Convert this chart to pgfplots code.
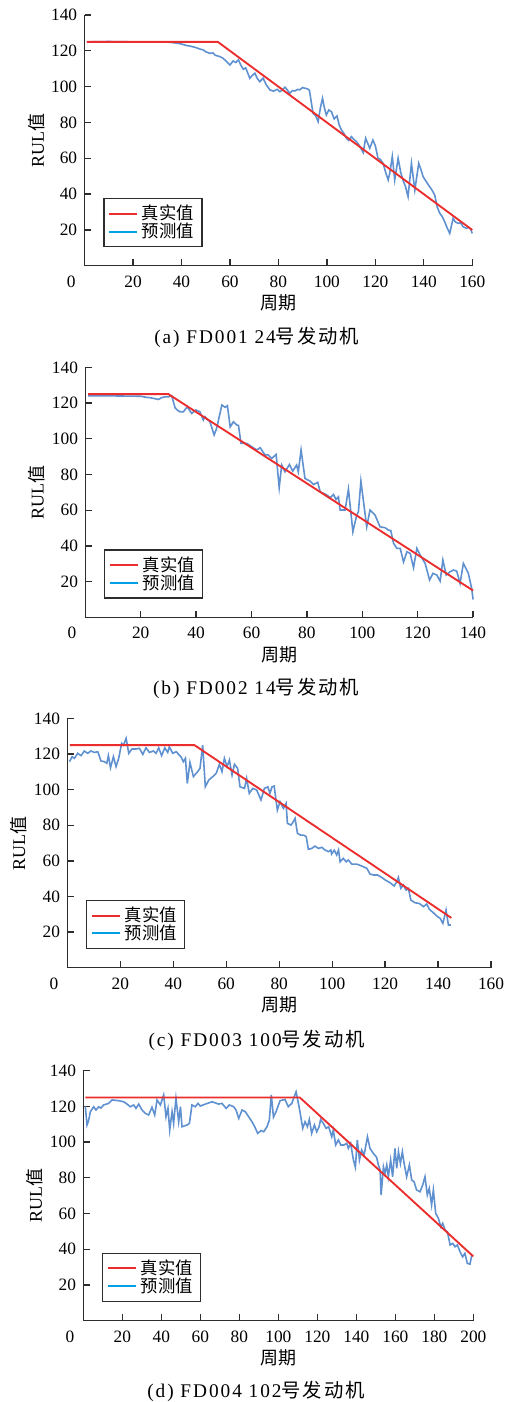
\documentclass[border=0pt]{standalone}
\usepackage{fontspec}
\setmainfont{Liberation Serif}
\newfontfamily\cjk{Noto Sans CJK SC}
\newfontfamily\capfont[LetterSpace=10]{Liberation Serif}
\newfontfamily\capcjk[LetterSpace=10]{Noto Sans CJK SC}
\usepackage{pgfplots}
\pgfplotsset{compat=1.18}
\definecolor{truered}{RGB}{235,45,45}
\definecolor{predblue}{RGB}{95,145,208}
\definecolor{legblue}{RGB}{0,160,230}
\definecolor{axgray}{RGB}{45,45,45}
\pgfplotsset{rulstyle/.style={
  scale only axis, axis lines=left,
  axis line style={-, line width=1pt, color=axgray},
  ymin=0, ymax=140, xmin=0, ytick={20,40,...,140},
  tick align=inside, major tick length=5pt,
  tick style={line width=1pt, color=axgray},
  /pgf/number format/assume math mode=true,
  tick label style={font=\fontsize{13}{15}\selectfont},
  xticklabel style={yshift=-4pt},
  yticklabel style={xshift=-2pt},
  extra x ticks={0},
  extra x tick style={major tick length=0pt, xticklabel style={xshift=-10pt}},
  xlabel={{\cjk 周期}}, ylabel={RUL{\cjk 值}},
  label style={font=\fontsize{13.5}{15}\selectfont},
  xlabel style={at={(axis description cs:0.5,0)}, anchor=center, yshift=-27.75pt},
  legend style={at={(axis description cs:0,0)}, anchor=south west, xshift=14pt, yshift=14pt,
    draw=axgray, line width=1pt, inner xsep=3pt, inner ysep=4.5pt,
    font=\cjk\fontsize{13}{14}\selectfont, legend cell align=left,
    nodes={inner xsep=3pt, inner ysep=0.5pt}},
  legend image code/.code={\draw[##1] (0pt,0pt) -- (21pt,0pt);},
  clip=false,
}}
\newcommand\leg{%
\addlegendimage{color=truered, line width=1.5pt}\addlegendentry{真实值}
\addlegendimage{color=legblue, line width=1.5pt}\addlegendentry{预测值}}
\begin{document}
\begin{tikzpicture}
\useasboundingbox (0,0) rectangle (381pt,-1051.5pt);
% (a)
\begin{axis}[rulstyle, at={(63.4pt,-199.35pt)}, anchor=south west,
  width=290.8pt, height=188.1pt, xmax=160, xtick={20,40,...,160},
  ylabel style={at={(axis description cs:-0.1225,0.5)}, anchor=center}]
\leg
\addplot[predblue, line width=1.2pt, forget plot] coordinates {
(1,125) (10,125.2) (20,125) (30,125) (35,124.8) (38,124.3) (40,123.8) (42,123) (44,122.5) (46,121.8) (47.6,121) (49,120.5) (50,119.5) (51.7,118.6) (53,118.8) (54,117.5) (55.8,116.8) (57,116) (58,114.8) (60,112.1) (61.3,114.3) (62.5,113.5) (63.5,115) (64.5,112) (65.5,109.7) (66.5,110.5) (68.2,104.7) (69,106) (70.3,107.5) (71.3,104.5) (72.3,102.8) (73.7,104.7) (75,101) (76.5,98.2) (78,97.5) (79.5,98.5) (80.6,97.2) (81.5,98) (82.7,99.7) (83.5,98.5) (84.7,96.3) (85.8,97.8) (86.8,97.6) (88,98.5) (88.8,98.2) (90,99.5) (90.9,99.1) (92,98.8) (92.8,98) (94.3,85.1) (95.3,84) (96.4,80.5) (97.3,88) (98.2,93.5) (99,88) (99.8,84.2) (100.8,87) (101.9,86) (103,82) (104.2,83.6) (105,79) (106,75.8) (107,74) (108.1,71.2) (109,70) (110.1,72.1) (111.2,70.5) (112.2,69.3) (113.5,67) (115,63.2) (116,71.2) (117.7,65.6) (119,70.2) (120,67) (121.1,60) (122,59.5) (123.2,57.2) (124.3,52) (125.3,47.9) (126,52) (127,61) (128,47.9) (129.4,60) (130.5,52) (131.4,47.9) (132.5,44) (133.5,38.6) (134.9,57.2) (136.3,42.3) (137.9,57.2) (139,53) (139.7,49.8) (141,47) (142.4,44.2) (143.5,42) (144.5,39.5) (145.5,33) (146.6,29.3) (147.6,27.5) (148.6,24.6) (149.7,21) (150.7,18.1) (152.1,26.5) (153,24.5) (154.1,23.7) (155.2,24) (156.2,21.8) (157.6,20.9) (158.5,21.5) (159.3,20.5) (160,18.1)};
\addplot[truered, line width=1.4pt, forget plot] coordinates {(1,125) (55,125) (160,20)};
\end{axis}
\node[font=\fontsize{14.5}{16}\capfont] at (192.5pt,-252.75pt) {(a) FD001 24{\capcjk 号发动机}};
% (b)
\begin{axis}[rulstyle, at={(64.0pt,-463.0pt)}, anchor=south west,
  width=290.8pt, height=187.5pt, xmax=140, xtick={20,40,...,140},
  ylabel style={at={(axis description cs:-0.1254,0.5)}, anchor=center}]
\leg
\addplot[predblue, line width=1.2pt, forget plot] coordinates {
(1,124) (10,124) (20,123.8) (22,123.2) (23.4,123) (25,122.5) (26.4,122) (27.5,123) (28.8,123.5) (30,123.5) (31.2,124) (32.4,117.4) (33.3,116) (34.2,115.1) (35.4,115.1) (36.8,117.9) (37.6,116) (38.4,114.2) (39.9,116.1) (41.4,115.1) (42.6,110.5) (43.2,112.3) (44,111) (45,109.5) (46.5,102.1) (47.4,105.8) (48.3,112) (49.3,118.9) (50.5,117.6) (51.3,118.5) (52.3,106.7) (53.5,109.5) (54.7,107.7) (55.3,107.5) (56.2,97.4) (58.3,97.4) (60.1,95.5) (61.9,93.7) (63.1,95) (64.9,90.9) (66,91) (67.3,89) (68.9,91.2) (70,72.6) (70.9,85.3) (72.1,81.5) (73.7,85.6) (74.9,81.9) (76.3,85.3) (76.9,81.5) (77.9,93.7) (79.3,77.8) (81.1,76.3) (82.4,74.4) (83.9,75.6) (84.8,70.3) (87.2,68.5) (88.5,67) (89.6,68.8) (90.5,66) (91.4,67.5) (92,60.1) (93.8,60.1) (95,71.8) (96.6,47.9) (98,57.3) (98.6,59.1) (99.5,76.3) (101.6,50.7) (102.8,60.1) (104.6,57.3) (106.4,50.7) (108.2,50.2) (109.4,48.9) (110.3,48.5) (111.3,41.4) (112.5,38.6) (113.7,38.6) (114.9,31) (116.1,36.7) (117.3,35.8) (118.5,27.8) (119.7,38.6) (120.9,34.9) (122.7,30.2) (124.3,20.9) (125.5,24.6) (126.9,23.7) (128.1,20.3) (129.1,32.1) (130.3,23.7) (131.7,25.5) (132.9,26.5) (134.1,25.9) (135.3,19) (136.5,30.2) (138.3,24.6) (139.5,16.2) (140,10)};
\addplot[truered, line width=1.4pt, forget plot] coordinates {(1,125) (30,125) (140,15)};
\end{axis}
\node[font=\fontsize{14.5}{16}\capfont] at (192pt,-516pt) {(b) FD002 14{\capcjk 号发动机}};
% (c)
\begin{axis}[rulstyle, at={(50.5pt,-725.8pt)}, anchor=south west,
  width=317.8pt, height=187.0pt, xmax=160, xtick={20,40,...,160},
  ylabel style={at={(axis description cs:-0.1156,0.5)}, anchor=center}]
\leg
\addplot[predblue, line width=1.2pt, forget plot] coordinates {
(0.8,115.7) (1.8,118.5) (2.7,117.6) (3.9,120.4) (5.2,119.1) (6.4,121.7) (7.7,120.4) (8.9,121.7) (10.2,120.9) (11.5,121.3) (12.7,116.1) (14,115.7) (14.9,114.8) (15.5,119.1) (16.3,112.3) (17.4,118.5) (18.4,112.9) (19.4,117.6) (20.5,126) (21.2,125) (22.2,128.8) (23.2,120.4) (24.4,122.8) (25.9,122.8) (27.2,123.2) (28.5,119.8) (29.7,123.5) (31,120.9) (32.5,121.7) (33.5,120.4) (34.5,123.5) (35.6,119.1) (36.8,123.5) (37.9,120.9) (38.5,124.1) (39.8,120.4) (41.1,121.3) (42.9,118.5) (43.8,115.7) (44.6,117.6) (45.3,103.5) (46.3,115.3) (47.6,107.3) (49.2,110.1) (50.1,112) (51.1,125) (52.1,101.6) (53.4,105.4) (54.9,107.3) (56.2,109.1) (57.4,114.2) (58.4,110.1) (59.3,117.6) (60.3,112.9) (61.2,116.6) (62.2,108.2) (63.1,114.2) (64.3,112) (65.2,101.6) (66.9,100.7) (67.7,106.3) (68.7,97.9) (70,100.7) (71.5,99.8) (73.1,94.2) (74.4,100.7) (75.7,101.6) (76.5,98) (77.3,101.6) (78.1,102) (79.3,88.5) (80.3,93.2) (81.6,89.5) (82.6,92.3) (83.1,81.1) (84.4,80.1) (85.1,81.4) (86,83.9) (86.9,75.4) (88.1,74.5) (89.2,74.5) (90.2,73.6) (91,66.5) (92.3,67) (93.5,68.3) (94.8,67) (96.1,67.6) (97.3,66.1) (98.6,65.2) (99.5,66.1) (99.8,63.9) (100.8,66) (101.7,63.3) (102.4,66.1) (103,59.5) (104.2,61.4) (105.3,59.5) (106.1,60.5) (107.4,58.2) (109.3,58.2) (111.2,57.1) (113.1,55.8) (114.3,52.6) (115.6,52.1) (117.1,52.1) (118.7,50.7) (120,49.3) (121.9,47.7) (123.4,45.9) (124.3,48) (125,50.7) (125.9,44.6) (126.9,46.4) (127.9,43.6) (128.8,44.5) (129.7,38) (131.3,36.5) (132.9,36.1) (134.5,34.3) (135.7,35.8) (136.7,32.8) (138.2,30.9) (139.5,29) (140.8,27.7) (141.8,24.9) (143,32.4) (143.9,24) (144.8,24)};
\addplot[truered, line width=1.4pt, forget plot] coordinates {(1,125) (48,125) (145,28)};
\end{axis}
\node[font=\fontsize{14.5}{16}\capfont] at (192.5pt,-780pt) {(c) FD003 100{\capcjk 号发动机}};
% (d)
\begin{axis}[rulstyle, at={(62.5pt,-990.5pt)}, anchor=south west,
  width=292.5pt, height=187.5pt, xmax=200, xtick={20,40,...,200},
  ylabel style={at={(axis description cs:-0.1238,0.5)}, anchor=center}]
\leg
\addplot[predblue, line width=1.2pt, forget plot] coordinates {
(1,120) (1.9,109.6) (2.7,112) (3.6,117) (5.3,119.8) (6.5,118) (7.9,119.8) (9,119) (10.4,120.8) (13,121.7) (14.7,123.6) (18.1,123.2) (20.7,122.6) (22.4,121.3) (24.1,119.8) (25.8,120.8) (27,118.9) (28.4,121.3) (30.1,118) (31.8,116.1) (33.5,115.2) (35.2,119.5) (36.6,115.2) (37.8,123.6) (39.5,120.8) (41.2,126.4) (42.4,114.2) (43.4,118.9) (44.3,106.8) (45.5,117) (46.3,110.5) (47.5,124.5) (48.9,111.4) (49.8,119.8) (50.6,108.6) (53.2,109.6) (54.4,110.5) (55.7,120.8) (57.4,119.8) (58.8,121.7) (60,120.2) (62.6,121.3) (66,122.6) (69.4,121.3) (71.1,121.7) (73.2,118.9) (74.9,120.8) (77.1,119.8) (78.3,118) (79.7,113.3) (81.4,118) (83.1,117) (84.8,114.2) (86.5,111.4) (87.9,108.6) (89.4,104.9) (91.1,106.4) (92.5,105.8) (94.2,108.6) (95.4,112.4) (96.4,126.4) (97.5,114) (98.8,117) (100.9,123.2) (103.4,123.9) (105.1,119.8) (106.9,121.7) (109.1,128.2) (110.3,121.7) (111.1,117) (112.5,107.7) (113.7,111.4) (114.9,108.6) (115.9,112.7) (117.1,104.9) (118.5,109.6) (119.7,105.8) (120.9,108.6) (121.7,112.7) (123.1,110.5) (124.5,107.7) (125.8,108.6) (127.4,103) (128.2,106.8) (129.4,98.4) (130.8,101.2) (132,98.4) (133.7,98.4) (135.1,99.3) (135.9,96.5) (137.1,99.3) (138.5,90) (139.5,85.9) (140.5,101.2) (141.6,90) (142.7,95.6) (144,92.8) (145.7,103) (147,96.5) (148.7,93.7) (150.4,91.5) (151.3,87.2) (152.2,84.4) (152.7,70.4) (153.9,86.2) (154.7,82.5) (155.6,87.2) (156.4,80.6) (157.6,90) (158.6,80.6) (159.8,96.5) (160.7,85.3) (161.6,94.6) (162.6,88) (163.6,94.6) (164.5,88.1) (165.8,80.6) (167.2,87.2) (168.4,78.8) (169.6,77.8) (170.9,73.2) (172.7,72.2) (174,75.9) (175.2,80.6) (176.4,70.4) (177.4,74.1) (178.6,64.8) (179.5,73.2) (180.7,60.1) (182.1,57.3) (183.3,52.6) (184.3,54.5) (185.5,50.8) (186.7,49.8) (188.1,42.4) (189.4,43.3) (190.6,41.4) (191.8,42.4) (193.2,38.6) (194.5,35.8) (195.7,37.7) (196.9,32.1) (198.3,31.7) (199.2,36.8)};
\addplot[truered, line width=1.4pt, forget plot] coordinates {(1,125) (111,125) (200,36)};
\end{axis}
\node[font=\fontsize{14.5}{16}\capfont] at (192pt,-1043.25pt) {(d) FD004 102{\capcjk 号发动机}};
\end{tikzpicture}
\end{document}
